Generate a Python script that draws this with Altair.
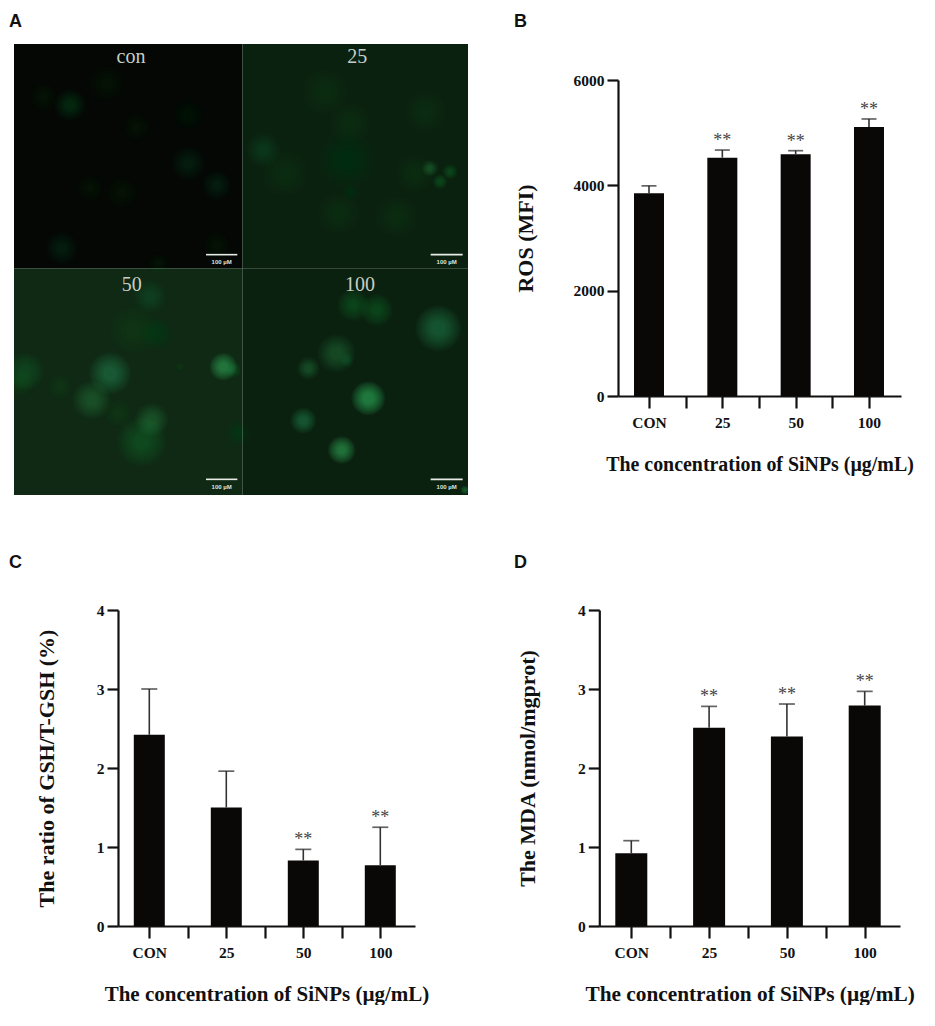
import altair as alt
import pandas as pd
import math

SERIF = "Liberation Serif"
SANS = "Liberation Sans"

categories = ["CON", "25", "50", "100"]
positions = [0, 1, 2, 3]
tick_positions = [0, 0.5, 1, 1.5, 2, 2.5, 3]
x_title = "The concentration of SiNPs (µg/mL)"

ros_vals = [3848, 4525, 4590, 5108]
ros_errs = [3990, 4670, 4658, 5260]
ros_sig = ["", "**", "**", "**"]

gsh_vals = [2.42, 1.50, 0.83, 0.77]
gsh_errs = [3.00, 1.96, 0.97, 1.25]
gsh_sig = ["", "", "**", "**"]

mda_vals = [0.92, 2.51, 2.40, 2.79]
mda_errs = [1.08, 2.78, 2.81, 2.97]
mda_sig = ["", "**", "**", "**"]

# Micrograph panel, in image coordinates of the 4 x 4 tiled picture
tile_x0 = [42, 727, 42, 727]
tile_x1 = [727, 1404, 727, 1404]
tile_y0 = [132, 132, 805, 805]
tile_y1 = [805, 805, 1485, 1485]
tile_col = ["#040704", "#0b2110", "#0f2914", "#0b2110"]
tile_names = ["con", "25", "50", "100"]
name_x = [393, 1072, 395, 1080]
name_y = [170, 170, 855, 855]
bar_x0 = [618, 1292, 618, 1292]
bar_x1 = [712, 1388, 712, 1388]
bar_y = [764, 764, 1438, 1438]

cell_x = [130, 210, 320, 410, 565, 565, 650, 270, 365, 185, 650, 475,
          975, 1050, 1275, 790, 855, 1040, 1245, 1290, 1350, 1320, 1015, 1190, 1050,
          75, 330, 670, 275, 455, 425, 355, 180, 400, 450, 470, 715, 60, 540, 700,
          1060, 1130, 1315, 1010, 925, 1105, 910, 1025, 1040, 1395]
cell_y = [290, 315, 250, 380, 345, 490, 555, 565, 578, 745, 735, 790,
          275, 370, 335, 450, 520, 480, 520, 505, 515, 545, 640, 650, 575,
          1115, 1120, 1100, 1200, 1260, 1325, 1240, 1160, 990, 890, 1000, 1300, 1150, 1100, 1110,
          915, 930, 985, 1060, 1105, 1195, 1262, 1350, 1080, 1470]
cell_r = [38, 42, 48, 36, 40, 46, 40, 36, 42, 44, 36, 28,
          60, 55, 55, 45, 60, 75, 50, 22, 20, 20, 55, 55, 22,
          50, 55, 36, 50, 44, 65, 38, 34, 65, 44, 44, 34, 38, 14, 22,
          42, 42, 60, 50, 30, 44, 34, 36, 20, 12]
cell_glow = [.12, .18, .10, .10, .08, .17, .14, .12, .12, .14, .10, .12,
             .10, .10, .13, .17, .10, .08, .10, .30, .25, .25, .13, .13, .08,
             .20, .45, .65, .30, .32, .22, .10, .10, .13, .15, .08, .08, .10, .12, .20,
             .25, .25, .42, .32, .32, .75, .42, .65, .15, .40]

ring_steps = [1.3, 1.2, 1.1, 1.0, 0.9, 0.8, 0.7, 0.6, 0.5, 0.4]
rings = pd.DataFrame([
    {"x": x, "y": y, "area": math.pi * (r * f / 3) ** 2, "op": g / len(ring_steps)}
    for x, y, r, g in zip(cell_x, cell_y, cell_r, cell_glow)
    for f in ring_steps
])
tiles = pd.DataFrame({"x0": tile_x0, "x1": tile_x1, "y0": tile_y0, "y1": tile_y1, "c": tile_col})
names = pd.DataFrame({"x": name_x, "y": name_y, "t": tile_names})
bars100 = pd.DataFrame({"x0": bar_x0, "x1": bar_x1, "y": bar_y})

A_W, A_H = 454, 451
px = alt.Scale(domain=[42, 1404], range=[0, A_W], nice=False, zero=False)
py = alt.Scale(domain=[132, 1485], range=[0, A_H], nice=False, zero=False)
X = lambda f: alt.X(f, type="quantitative", scale=px, axis=None)
Y = lambda f: alt.Y(f, type="quantitative", scale=py, axis=None)


def letter(t, x, y):
    return alt.Chart(pd.DataFrame({"t": [t]})).mark_text(
        font=SANS, fontWeight="bold", fontSize=18, align="left", baseline="middle", color="#111111"
    ).encode(text="t:N", x=alt.value(x), y=alt.value(y))


panel_a = alt.layer(
    alt.Chart(tiles).mark_rect().encode(
        x=X("x0"), x2="x1", y=Y("y0"), y2="y1", color=alt.Color("c:N", scale=None)),
    alt.Chart(rings).mark_circle(color="#35c46a", clip=True, strokeWidth=0).encode(
        x=X("x"), y=Y("y"),
        size=alt.Size("area:Q", scale=None),
        opacity=alt.Opacity("op:Q", scale=None)),
    alt.Chart(names).mark_text(font=SERIF, fontSize=20, color="#c6cfc6", baseline="middle").encode(
        x=X("x"), y=Y("y"), text="t:N"),
    alt.Chart(bars100).mark_rule(color="#e6ebe6", strokeWidth=1.6).encode(x=X("x0"), x2="x1", y=Y("y")),
    alt.Chart(bars100.assign(t="100 µM", ly=bars100["y"] + 22, cx=(bars100["x0"] + bars100["x1"]) / 2)).mark_text(
        font=SANS, fontSize=6, fontWeight="bold", color="#dfe5df", baseline="middle").encode(
        x=X("cx"), y=Y("ly"), text="t:N"),
    letter("A", -5, -22),
).properties(width=A_W, height=A_H)


def bar_panel(vals, errs, sig, ymax, yticks, ytitle, c0, step, ax_l, ax_r, cell_x0,
              cell_h, y_top, y_bot, bw, cap, title_pad, x_title_pad, x_title_size, mark):
    df = pd.DataFrame({"pos": positions, "cat": categories, "v": vals, "e": errs, "s": sig})
    xs = alt.Scale(domain=[(ax_l - c0) / step, (ax_r - c0) / step],
                   range=[ax_l - cell_x0, ax_r - cell_x0], nice=False, zero=False, padding=0)
    ys = alt.Scale(domain=[0, ymax], range=[y_bot, y_top], nice=False, zero=True)
    lab = " : ".join(f"datum.value === {p} ? '{c}'" for p, c in zip(positions, categories)) + " : ''"
    x_axis = alt.Axis(values=tick_positions, labelExpr=lab, title=x_title, grid=False,
                      offset=-(cell_h - y_bot), tickSize=12, tickWidth=2.2, tickColor="#111111",
                      domainWidth=2.2, domainColor="#111111", labelFont=SERIF, labelFontWeight="bold",
                      labelFontSize=15.5, labelColor="#111111", labelPadding=7, labelOverlap=False,
                      labelFlush=False, titleFont=SERIF, titleFontWeight="bold", titleFontSize=x_title_size,
                      titleColor="#111111", titlePadding=x_title_pad)
    y_axis = alt.Axis(values=yticks, title=ytitle, grid=False, offset=-(ax_l - cell_x0), tickSize=11,
                      tickWidth=2.2, tickColor="#111111", domainWidth=2.2, domainColor="#111111",
                      labelFont=SERIF, labelFontWeight="bold", labelFontSize=15.5, labelColor="#111111",
                      labelPadding=3, labelFlush=False, format="d", titleFont=SERIF, titleFontWeight="bold",
                      titleFontSize=22, titleColor="#111111", titlePadding=title_pad)
    base = alt.Chart(df)
    x_enc = alt.X("pos:Q", scale=xs, axis=x_axis)
    y_enc = alt.Y("v:Q", scale=ys, axis=y_axis)
    ye = alt.Y("e:Q", scale=ys)
    x_plain = alt.X("pos:Q", scale=xs)
    layers = [
        base.mark_bar(orient="vertical", size=bw, color="#0a0707").encode(x=x_enc, y=y_enc),
        base.mark_rule(color="#333333", strokeWidth=1.6).encode(x=x_plain, y=ye, y2="v:Q"),
        base.mark_tick(orient="horizontal", color="#222222", thickness=1.7, size=cap).encode(x=x_plain, y=ye),
        base.mark_text(font=SERIF, fontSize=18, color="#444444", baseline="alphabetic", dy=-4).encode(
            x=x_plain, y=ye, text="s:N"),
        letter(*mark),
    ]
    return alt.layer(*layers).properties(width=454 if cell_x0 == 14 else 302, height=cell_h)


panel_b = bar_panel(ros_vals, ros_errs, ros_sig, 6000, [0, 2000, 4000, 6000], "ROS (MFI)",
                    649, 73.33, 618, 901, 599, A_H, 36, 352, 30, 15, 36, 24, 19.9, ("B", -85, -22))
panel_c = bar_panel(gsh_vals, gsh_errs, gsh_sig, 4, [0, 1, 2, 3, 4], "The ratio of GSH/T-GSH (%)",
                    149.3, 77, 118, 415, 14, 316, 0, 316, 31, 16, 38, 23, 21, ("C", -5, -47))
panel_d = bar_panel(mda_vals, mda_errs, mda_sig, 4, [0, 1, 2, 3, 4], "The MDA (nmol/mgprot)",
                    631.3, 77.8, 599.3, 900, 599, 316, 0, 316, 32, 16, 38, 23, 21.3, ("D", -85, -47))

chart = alt.concat(panel_a, panel_b, panel_c, panel_d, columns=2,
                   spacing={"row": 115, "column": 131}, bounds="flush", align="all").properties(
    padding={"left": 1, "top": 5, "right": 0, "bottom": 0}, background="white"
).configure_view(strokeWidth=0, stroke="transparent")

chart.save("out.html", embed_options={"renderer": "svg", "actions": False})
